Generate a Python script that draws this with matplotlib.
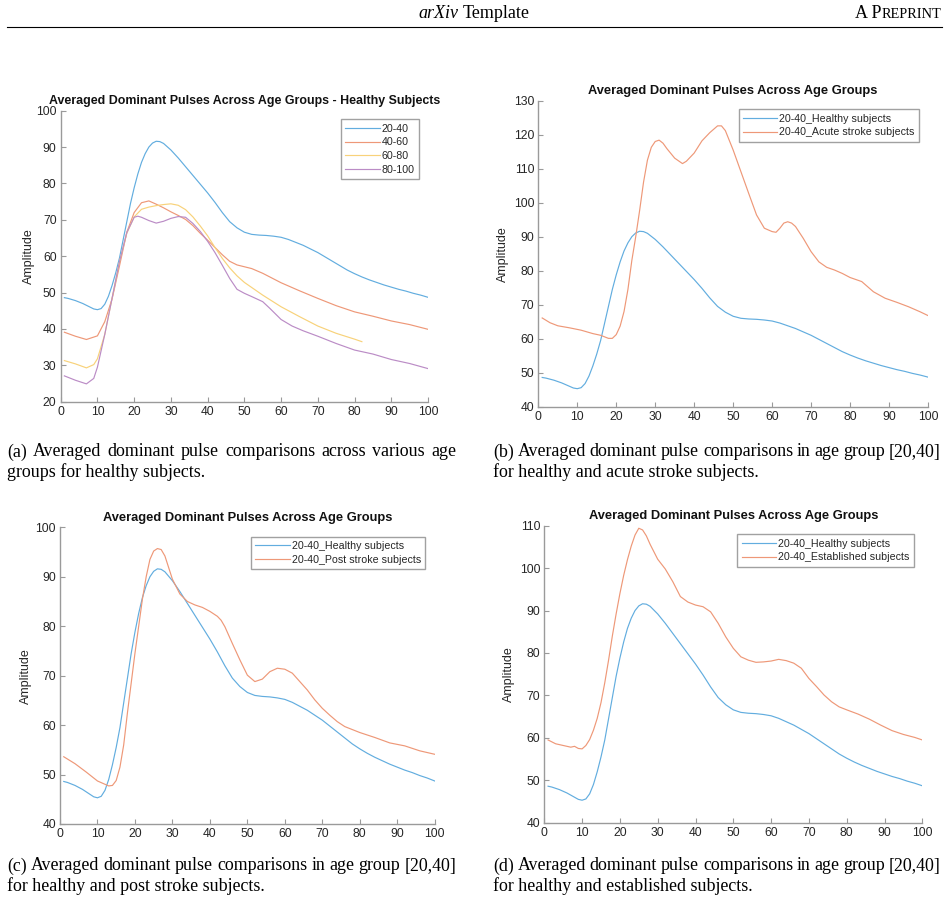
import matplotlib
matplotlib.use("Agg")
import matplotlib.pyplot as plt

# ---------------- data ----------------
x_healthy = [1, 2, 4, 6, 8, 9, 10, 11, 12, 13, 14, 15, 16, 17, 18, 19, 20, 21, 22, 23, 24, 25, 26, 27, 28,
             30, 32, 34, 36, 38, 40, 42, 44, 46, 48, 50, 52, 54, 56, 58, 60, 62, 64, 66, 68, 70, 72, 74,
             76, 78, 80, 82, 84, 86, 88, 90, 92, 94, 96, 98, 100]
y_healthy = [48.6, 48.4, 47.8, 47.0, 46.0, 45.5, 45.3, 45.6, 46.8, 49.0, 52.0, 55.5, 59.5, 64.5, 69.5, 74.5,
             78.8, 82.6, 85.8, 88.2, 90.0, 91.1, 91.6, 91.5, 91.0,
             89.2, 87.0, 84.6, 82.2, 79.8, 77.4, 74.8, 72.0, 69.5, 67.8, 66.6, 66.0, 65.8, 65.7, 65.5, 65.2,
             64.6, 63.8, 63.0, 62.0, 61.0, 59.8, 58.6, 57.4, 56.2, 55.2, 54.3, 53.5, 52.8, 52.1, 51.5,
             50.9, 50.4, 49.8, 49.3, 48.7]

x_4060 = [1, 4, 7, 10, 12, 14, 16, 18, 20, 22, 24, 26, 28, 30, 32, 34, 36, 38, 40, 42, 44, 46, 48, 50, 52,
          55, 60, 65, 70, 75, 80, 85, 90, 95, 100]
y_4060 = [39.1, 38.0, 37.1, 38.1, 42.0, 48.3, 57.3, 66.6, 72.0, 74.7, 75.2, 74.3, 73.3, 72.2, 71.2, 70.1,
          68.4, 66.3, 64.4, 62.4, 60.4, 58.6, 57.6, 57.1, 56.6, 55.3, 52.7, 50.5, 48.4, 46.4, 44.7,
          43.5, 42.2, 41.2, 39.9]

x_6080 = [1, 4, 7, 9, 10, 12, 14, 16, 18, 20, 22, 24, 26, 28, 30, 32, 34, 36, 38, 40, 42, 44, 46, 48, 50,
          55, 60, 65, 70, 75, 80, 82]
y_6080 = [31.3, 30.4, 29.3, 30.2, 31.8, 38.5, 48.5, 58.5, 66.3, 70.8, 72.9, 73.5, 73.9, 74.2, 74.4, 74.0,
          72.8, 70.8, 68.3, 65.6, 62.4, 59.4, 56.8, 54.6, 52.8, 49.3, 46.1, 43.4, 40.8, 38.8, 37.2, 36.5]

x_80100 = [1, 4, 7, 9, 10, 12, 14, 16, 18, 20, 21, 22, 24, 26, 28, 30, 32, 34, 36, 38, 40, 42, 44, 46, 48,
           50, 52, 55, 57, 60, 63, 66, 70, 75, 80, 85, 90, 95, 100]
y_80100 = [27.1, 25.9, 24.9, 26.4, 29.5, 38.5, 48.5, 58.5, 66.5, 70.7, 71.0, 70.7, 69.8, 69.1, 69.6, 70.4,
           70.9, 70.7, 69.0, 66.8, 64.1, 61.0, 57.5, 53.9, 50.9, 49.8, 48.9, 47.5, 45.6, 42.6, 40.8,
           39.5, 38.0, 36.0, 34.2, 33.1, 31.6, 30.5, 29.1]

x_acute = [1, 3, 5, 8, 11, 14, 16, 18, 19, 20, 21, 22, 23, 24, 25, 26, 27, 28, 29, 30, 31, 32, 33, 35, 37,
           38, 40, 42, 44, 46, 47, 48, 50, 52, 54, 56, 58, 60, 61, 62, 63, 64, 65, 66, 68, 70, 72, 74,
           76, 78, 80, 83, 86, 89, 92, 95, 98, 100]
y_acute = [66.1, 64.7, 63.8, 63.2, 62.5, 61.5, 61.0, 60.1, 60.1, 61.2, 63.7, 68.0, 74.5, 83.0, 90.0, 97.7,
           106.0, 112.5, 116.3, 118.0, 118.4, 117.5, 115.9, 113.1, 111.5, 112.2, 114.6, 118.2, 120.6,
           122.6, 122.6, 121.2, 115.5, 109.1, 102.7, 96.4, 92.5, 91.5, 91.3, 92.5, 94.0, 94.4, 94.0,
           93.0, 89.5, 85.6, 82.6, 81.0, 80.2, 79.2, 78.0, 76.8, 73.8, 71.9, 70.7, 69.4, 67.9, 66.8]

x_post = [1, 4, 7, 10, 13, 14, 15, 16, 17, 18, 19, 20, 21, 22, 23, 24, 25, 26, 27, 28, 30, 32, 34, 36, 38,
          40, 42, 43, 44, 46, 48, 50, 52, 54, 56, 58, 60, 62, 64, 66, 68, 70, 72, 74, 76, 78, 80, 84,
          88, 92, 96, 100]
y_post = [53.6, 52.2, 50.5, 48.7, 47.7, 47.8, 48.8, 51.5, 56.0, 62.5, 68.5, 74.5, 80.0, 85.5, 90.0, 93.5,
          95.2, 95.7, 95.5, 94.2, 89.5, 86.5, 85.0, 84.3, 83.8, 83.0, 82.0, 81.2, 79.9, 76.5, 73.2,
          70.1, 68.8, 69.3, 70.8, 71.5, 71.3, 70.5, 68.8, 67.1, 65.1, 63.4, 62.0, 60.7, 59.7, 59.1,
          58.5, 57.5, 56.4, 55.8, 54.8, 54.1]

x_estab = [1, 3, 5, 7, 8, 9, 10, 11, 12, 13, 14, 15, 16, 17, 18, 19, 20, 21, 22, 23, 24, 25, 26, 27, 28,
           30, 32, 34, 36, 38, 40, 42, 44, 46, 48, 50, 52, 54, 56, 58, 60, 62, 64, 66, 68, 70, 72, 74,
           76, 78, 80, 83, 86, 89, 92, 95, 98, 100]
y_estab = [59.5, 58.6, 58.2, 57.8, 58.0, 57.5, 57.4, 58.2, 59.6, 61.8, 64.6, 68.3, 73.0, 78.3, 84.0, 89.2,
           94.0, 98.3, 102.0, 105.2, 107.8, 109.4, 109.0, 107.6, 105.6, 102.1, 99.8, 96.8, 93.3, 92.0,
           91.3, 90.9, 89.7, 87.0, 83.8, 81.1, 79.1, 78.3, 77.8, 77.9, 78.1, 78.5, 78.2, 77.6, 76.4,
           74.0, 72.1, 70.1, 68.5, 67.3, 66.6, 65.6, 64.4, 63.0, 61.7, 60.8, 60.1, 59.5]

x_ticks = [0, 10, 20, 30, 40, 50, 60, 70, 80, 90, 100]

# ---------------- style ----------------
C_BLUE = "#62addf"
C_ORANGE = "#ee9878"
C_YELLOW = "#f8d27a"
C_PURPLE = "#bb8cc6"
SANS = ["Liberation Sans", "DejaVu Sans"]
SERIF = ["Liberation Serif", "DejaVu Serif"]
AX_GRAY = "#9a9a9a"
TXT = "#262626"

W, H = 949, 902
fig = plt.figure(figsize=(W / 100, H / 100), dpi=100)


def fx(px):
    return px / W


def fy(py):
    return 1 - py / H


def make_ax(l, t, r, b, ylim, yticks, title, title_fs, legend_box, series, ylab_pad):
    ax = fig.add_axes([fx(l), fy(b), fx(r) - fx(l), fy(t) - fy(b)])
    for xs, ys, c, lab in series:
        ax.plot(xs, ys, color=c, lw=0.85, label=lab)
    ax.set_xlim(0, 100)
    ax.set_ylim(*ylim)
    ax.set_xticks(x_ticks)
    ax.set_yticks(yticks)
    for s in ["top", "right"]:
        ax.spines[s].set_visible(False)
    for s in ["left", "bottom"]:
        ax.spines[s].set_color(AX_GRAY)
        ax.spines[s].set_linewidth(1.0)
    ax.tick_params(direction="in", length=3.5, width=0.8, color=AX_GRAY, labelcolor=TXT,
                   labelsize=8.7, pad=3)
    for lab in ax.get_xticklabels() + ax.get_yticklabels():
        lab.set_family(SANS)
    ax.set_title(title, fontsize=title_fs, fontweight="bold", family=SANS, color="#111111", pad=4.5)
    ax.set_ylabel("Amplitude", fontsize=9.0, family=SANS, color=TXT, labelpad=ylab_pad)
    bx0, by0 = legend_box
    leg = ax.legend(loc="upper right", bbox_to_anchor=(fx(bx0), fy(by0)),
                    bbox_transform=fig.transFigure, borderaxespad=0.0,
                    prop={"family": SANS, "size": 7.7}, frameon=True, fancybox=False,
                    handlelength=3.2, handletextpad=0.2, labelspacing=0.35,
                    borderpad=0.4)
    leg.get_frame().set_edgecolor("#8a8a8a")
    leg.get_frame().set_linewidth(1.0)
    for tx in leg.get_texts():
        tx.set_color(TXT)
    return ax


# (a)
make_ax(60.7, 110.7, 428, 401.7, (20, 100), [20, 30, 40, 50, 60, 70, 80, 90, 100],
        "Averaged Dominant Pulses Across Age Groups - Healthy Subjects", 8.9, (419, 119.3),
        [(x_healthy, y_healthy, C_BLUE, "20-40"),
         (x_4060, y_4060, C_ORANGE, "40-60"),
         (x_6080, y_6080, C_YELLOW, "60-80"),
         (x_80100, y_80100, C_PURPLE, "80-100")], 1.0)

# (b)
make_ax(538.3, 100.7, 928, 406.7, (40, 130), [40, 50, 60, 70, 80, 90, 100, 110, 120, 130],
        "Averaged Dominant Pulses Across Age Groups", 9.25, (919, 109.3),
        [(x_healthy, y_healthy, C_BLUE, "20-40_Healthy subjects"),
         (x_acute, y_acute, C_ORANGE, "20-40_Acute stroke subjects")], 3.5)

# (c)
make_ax(60, 527.3, 434.7, 824, (40, 100), [40, 50, 60, 70, 80, 90, 100],
        "Averaged Dominant Pulses Across Age Groups", 9.25, (425.3, 536.7),
        [(x_healthy, y_healthy, C_BLUE, "20-40_Healthy subjects"),
         (x_post, y_post, C_ORANGE, "20-40_Post stroke subjects")], 2.5)

# (d)
make_ax(544.3, 525.7, 922.3, 822.7, (40, 110), [40, 50, 60, 70, 80, 90, 100, 110],
        "Averaged Dominant Pulses Across Age Groups", 9.25, (913.7, 534.3),
        [(x_healthy, y_healthy, C_BLUE, "20-40_Healthy subjects"),
         (x_estab, y_estab, C_ORANGE, "20-40_Established subjects")], 3.0)

renderer = fig.canvas.get_renderer()

# header
HFS = 13.0
BASE = fy(18)
t_arx = fig.text(0, BASE, "arXiv", family=SERIF, style="italic", fontsize=HFS, ha="left", va="baseline")
t_tpl = fig.text(0, BASE, "Template", family=SERIF, fontsize=HFS, ha="left", va="baseline")
w_arx = t_arx.get_window_extent(renderer).width
w_tpl = t_tpl.get_window_extent(renderer).width
sp = 4.0
start = 474 - (w_arx + sp + w_tpl) / 2
t_arx.set_x(fx(start))
t_tpl.set_x(fx(start + w_arx + sp))

t_rep = fig.text(fx(941), BASE, "REPRINT", family=SERIF, fontsize=HFS * 0.8, ha="right", va="baseline")
bb = t_rep.get_window_extent(renderer)
fig.text(bb.x0 / W, BASE, "A P", family=SERIF, fontsize=HFS, ha="right", va="baseline")
fig.add_artist(plt.Line2D([fx(7), fx(942)], [fy(27), fy(27)], color="black", lw=0.8,
                          transform=fig.transFigure))

# captions
CFS = 12.9


def justified(x0, x1, y, text):
    words = text.split(" ")
    arts = [fig.text(0, fy(y), w, family=SERIF, fontsize=CFS, ha="left", va="center") for w in words]
    widths = [a.get_window_extent(renderer).width for a in arts]
    gap = (x1 - x0 - sum(widths)) / (len(words) - 1)
    pos = x0
    for a, wd in zip(arts, widths):
        a.set_x(fx(pos))
        pos += wd + gap


def plain(x0, y, text):
    fig.text(fx(x0), fy(y), text, family=SERIF, fontsize=CFS, ha="left", va="center")


justified(7, 456, 452, "(a) Averaged dominant pulse comparisons across various age")
plain(7, 472, "groups for healthy subjects.")
justified(493, 941, 452, "(b) Averaged dominant pulse comparisons in age group [20,40]")
plain(493, 472, "for healthy and acute stroke subjects.")
justified(7, 456, 866, "(c) Averaged dominant pulse comparisons in age group [20,40]")
plain(7, 886, "for healthy and post stroke subjects.")
justified(493, 941, 866, "(d) Averaged dominant pulse comparisons in age group [20,40]")
plain(493, 886, "for healthy and established subjects.")

fig.savefig("out.png", dpi=100)
